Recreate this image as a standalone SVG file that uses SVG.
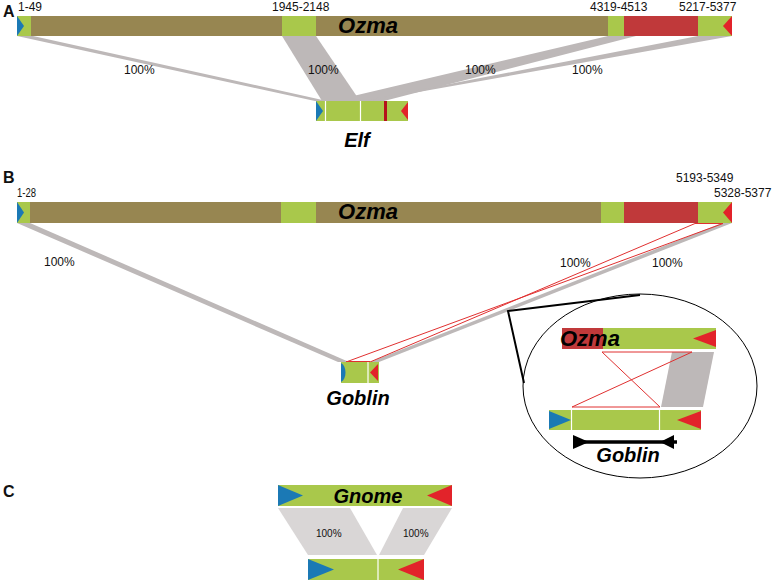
<svg xmlns="http://www.w3.org/2000/svg" width="777" height="583" viewBox="0 0 777 583">
<style>
.olive{fill:#978651}
.green{fill:#a9c84b}
.redband{fill:#c0393a}
.redtri{fill:#e2232a}
.blue{fill:#1b79b5}
.wline{stroke:#ffffff;stroke-width:1.2}
.band{fill:#bdb8b8}
.bandc{fill:#d9d6d6}
.rline{stroke:#e03030;stroke-width:1;fill:none}
.lbl{font-family:"Liberation Sans",Arial,sans-serif;font-size:12px;fill:#111}
.plbl{font-family:"Liberation Sans",Arial,sans-serif;font-size:16px;font-weight:bold;fill:#111}
.name{font-family:"Liberation Sans",Arial,sans-serif;font-weight:bold;font-style:italic;fill:#000}
</style>
<rect width="777" height="583" fill="#ffffff"/>

<g id="connectors">
  <!-- panel A -->
  <polygon class="band" points="17,36 33,36 327,101 315,101"/>
  <polygon class="band" points="608,36 636,36 384,101 332,101"/>
  <polygon class="band" points="698,36 732,36 368,101 361,101"/>
  <polygon class="band" points="282,36 316,36 360,101 322,101"/>
  <!-- panel B -->
  <polygon class="band" points="17,223 30,223 349,362 338,362"/>
  <polygon class="band" points="722,223 732,223 379,362 370,362"/>
  <line class="rline" x1="695" y1="223.5" x2="723" y2="223.5"/>
  <line class="rline" x1="695" y1="223.5" x2="370" y2="362"/>
  <line class="rline" x1="723" y1="223.5" x2="346" y2="362"/>
  <line class="rline" x1="346" y1="361.5" x2="370" y2="361.5"/>
  <!-- zoom lines -->
  <polyline points="640,295 508,311 524,383" fill="none" stroke="#000" stroke-width="2"/>
  <!-- panel C -->
  <polygon class="bandc" points="278,508 350,508 377,555 308,555"/>
  <polygon class="bandc" points="403,508 452,508 424,555 379,555"/>
</g>

<g id="labels">
  <text class="plbl" x="3" y="17">A</text>
  <text class="plbl" x="3" y="183">B</text>
  <text class="plbl" x="3" y="497">C</text>
  <text class="lbl" x="18" y="11">1-49</text>
  <text class="lbl" x="272" y="11">1945-2148</text>
  <text class="lbl" x="590" y="11">4319-4513</text>
  <text class="lbl" x="679" y="11">5217-5377</text>
  <text class="lbl" x="124" y="74">100%</text>
  <text class="lbl" x="308" y="74">100%</text>
  <text class="lbl" x="465" y="74">100%</text>
  <text class="lbl" x="572" y="74">100%</text>
  <text class="lbl" x="17" y="197" textLength="19" lengthAdjust="spacingAndGlyphs">1-28</text>
  <text class="lbl" x="676" y="182">5193-5349</text>
  <text class="lbl" x="714" y="197">5328-5377</text>
  <text class="lbl" x="44" y="266">100%</text>
  <text class="lbl" x="560" y="267">100%</text>
  <text class="lbl" x="652" y="267">100%</text>
  <text class="lbl" x="316" y="537" style="font-size:10px">100%</text>
  <text class="lbl" x="403" y="537" style="font-size:10px">100%</text>
</g>

<g id="ozmaA">
  <rect class="olive" x="17" y="16" width="715" height="20"/>
  <rect class="green" x="17" y="16" width="14" height="20"/>
  <rect class="green" x="282" y="16" width="34" height="20"/>
  <rect class="green" x="608" y="16" width="16" height="20"/>
  <rect class="redband" x="624" y="16" width="74" height="20"/>
  <rect class="green" x="698" y="16" width="34" height="20"/>
  <polygon class="blue" points="17,16 17,36 24,26"/>
  <polygon class="redtri" points="732,16 732,36 723,26"/>
  <text class="name" x="368" y="33" font-size="22" text-anchor="middle">Ozma</text>
</g>

<g id="elf">
  <rect class="green" x="316" y="101" width="92" height="20"/>
  <polygon class="blue" points="316,101 316,121 323,111"/>
  <line class="wline" x1="325.5" y1="101" x2="325.5" y2="121"/>
  <line class="wline" x1="360.5" y1="101" x2="360.5" y2="121"/>
  <rect x="384" y="101" width="3" height="20" fill="#b5121b"/>
  <polygon class="redtri" points="408,102 408,120 401,111"/>
  <text class="name" x="357" y="147" font-size="20" text-anchor="middle">Elf</text>
</g>

<g id="ozmaB">
  <rect class="olive" x="17" y="202" width="715" height="21"/>
  <rect class="green" x="17" y="202" width="13" height="21"/>
  <rect class="green" x="281" y="202" width="35" height="21"/>
  <rect class="green" x="601" y="202" width="23" height="21"/>
  <rect class="redband" x="624" y="202" width="74" height="21"/>
  <rect class="green" x="698" y="202" width="34" height="21"/>
  <polygon class="blue" points="17,202 17,223 24,212.5"/>
  <polygon class="redtri" points="732,202 732,223 723,212.5"/>
  <text class="name" x="368" y="219" font-size="22" text-anchor="middle">Ozma</text>
</g>

<g id="goblin">
  <rect class="green" x="341" y="362" width="38" height="21"/>
  <path class="blue" d="M341,363 C347,366 347,379 341,382 Z"/>
  <line class="wline" x1="368" y1="362" x2="368" y2="383"/>
  <polygon class="redtri" points="378,364 378,381 370,372.5"/>
  <text class="name" x="358" y="405" font-size="20" text-anchor="middle">Goblin</text>
</g>

<g id="inset">
  <ellipse cx="640" cy="386" rx="117" ry="92" fill="none" stroke="#000" stroke-width="1"/>
  <rect class="green" x="562" y="328" width="154" height="21"/>
  <rect class="redband" x="562" y="328" width="41" height="21"/>
  <polygon class="redtri" points="716,330 716,347 693,338.5"/>
  <text class="name" x="560" y="346" font-size="22">Ozma</text>
  <polygon class="band" points="672,352 714,352 703,407 661,407"/>
  <line class="rline" x1="602" y1="352" x2="692" y2="352"/>
  <line class="rline" x1="602" y1="352" x2="660" y2="407"/>
  <line class="rline" x1="692" y1="352" x2="572" y2="407"/>
  <line class="rline" x1="572" y1="407" x2="660" y2="407"/>
  <rect class="green" x="549" y="410" width="152" height="20"/>
  <polygon class="blue" points="549,411 549,429 571,420"/>
  <line class="wline" x1="571.5" y1="410" x2="571.5" y2="430"/>
  <line class="wline" x1="659.5" y1="410" x2="659.5" y2="430"/>
  <polygon class="redtri" points="701,411 701,429 677,420"/>
  <line x1="573" y1="442" x2="677" y2="442" stroke="#000" stroke-width="3.5"/>
  <polygon points="573,435 573,449 589,442" fill="#000"/>
  <polygon points="660,442 674,435 674,449" fill="#000"/>
  <text class="name" x="628" y="462" font-size="20" text-anchor="middle">Goblin</text>
</g>

<g id="gnome">
  <rect class="green" x="278" y="485" width="174" height="21"/>
  <polygon class="blue" points="278,485 278,506 303,495.5"/>
  <polygon class="redtri" points="452,485 452,506 427,495.5"/>
  <text class="name" x="368" y="503" font-size="20" text-anchor="middle">Gnome</text>
</g>

<g id="gnome-aligned">
  <rect class="green" x="308" y="559" width="116" height="21"/>
  <polygon class="blue" points="308,559 308,580 334,569.5"/>
  <line class="wline" x1="378" y1="559" x2="378" y2="580"/>
  <polygon class="redtri" points="424,559 424,580 398,569.5"/>
</g>
</svg>
